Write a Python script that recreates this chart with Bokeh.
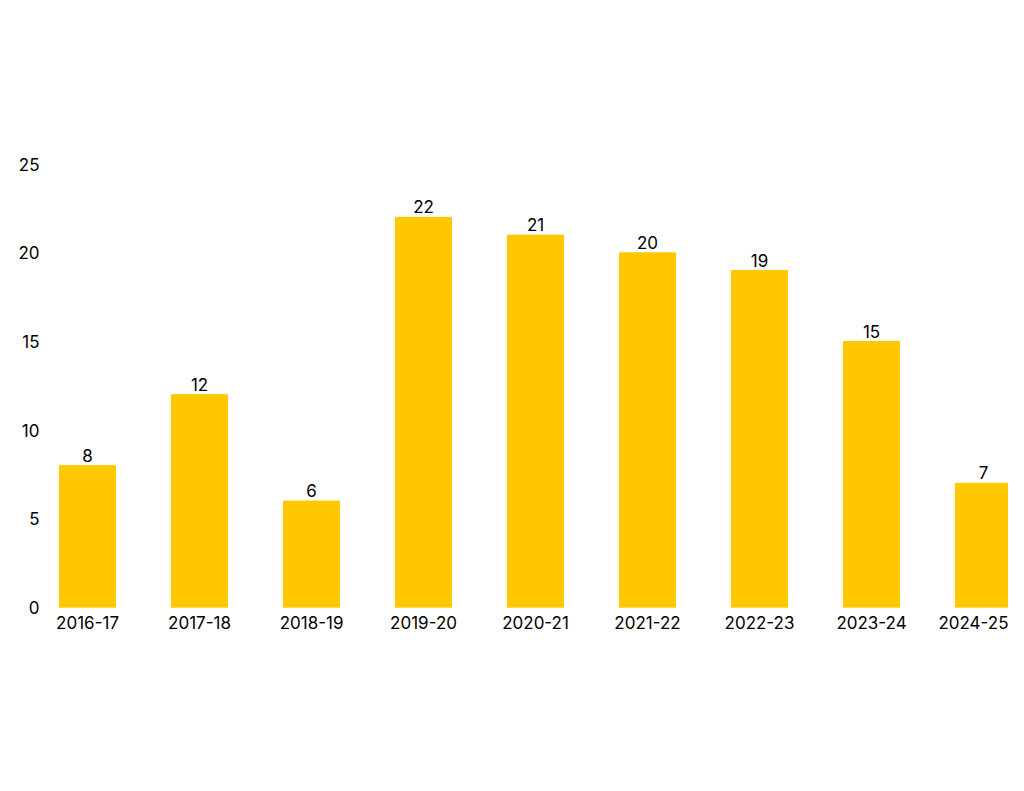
from bokeh.plotting import figure
from bokeh.models import ColumnDataSource, Range1d, FixedTicker, LabelSet
from bokeh.core.properties import value
from bokeh.embed import file_html
from bokeh.resources import INLINE

seasons = ["2016-17", "2017-18", "2018-19", "2019-20", "2020-21",
           "2021-22", "2022-23", "2023-24", "2024-25"]
counts = [8, 12, 6, 22, 21, 20, 19, 15, 7]
y_ticks = [0, 5, 10, 15, 20, 25]

idx = list(range(len(seasons)))
src = ColumnDataSource(dict(x=idx, top=counts, label=[str(c) for c in counts]))

FONT = "Inter"
TXT = "#000000"

p = figure(width=1008, height=775, output_backend="svg", toolbar_location=None,
           x_range=Range1d(-0.304, 8.223), y_range=Range1d(0, 30),
           min_border_left=53, min_border_right=0, min_border_top=75,
           min_border_bottom=168)
p.vbar(x="x", top="top", width=0.5, source=src, color="#FFC800")

labels = LabelSet(x="x", y="top", text="label", source=src, text_align="center",
                  text_baseline="bottom", y_offset=4, text_font=value(FONT),
                  text_font_size="17px", text_color=TXT)
p.add_layout(labels)

p.xaxis.ticker = FixedTicker(ticks=idx)
p.xaxis.major_label_overrides = {i: s for i, s in zip(idx, seasons)}
p.yaxis.ticker = FixedTicker(ticks=y_ticks)
for ax in (p.xaxis, p.yaxis):
    ax.axis_line_color = None
    ax.major_tick_line_color = None
    ax.minor_tick_line_color = None
    ax.major_label_text_font = FONT
    ax.major_label_text_font_size = "17px"
    ax.major_label_text_color = TXT
p.xaxis.major_label_standoff = 2
p.yaxis.major_label_standoff = 8
p.grid.grid_line_color = None
p.outline_line_color = None
p.background_fill_color = "white"
p.border_fill_color = "white"

open("out.html", "w").write(file_html(p, INLINE))
